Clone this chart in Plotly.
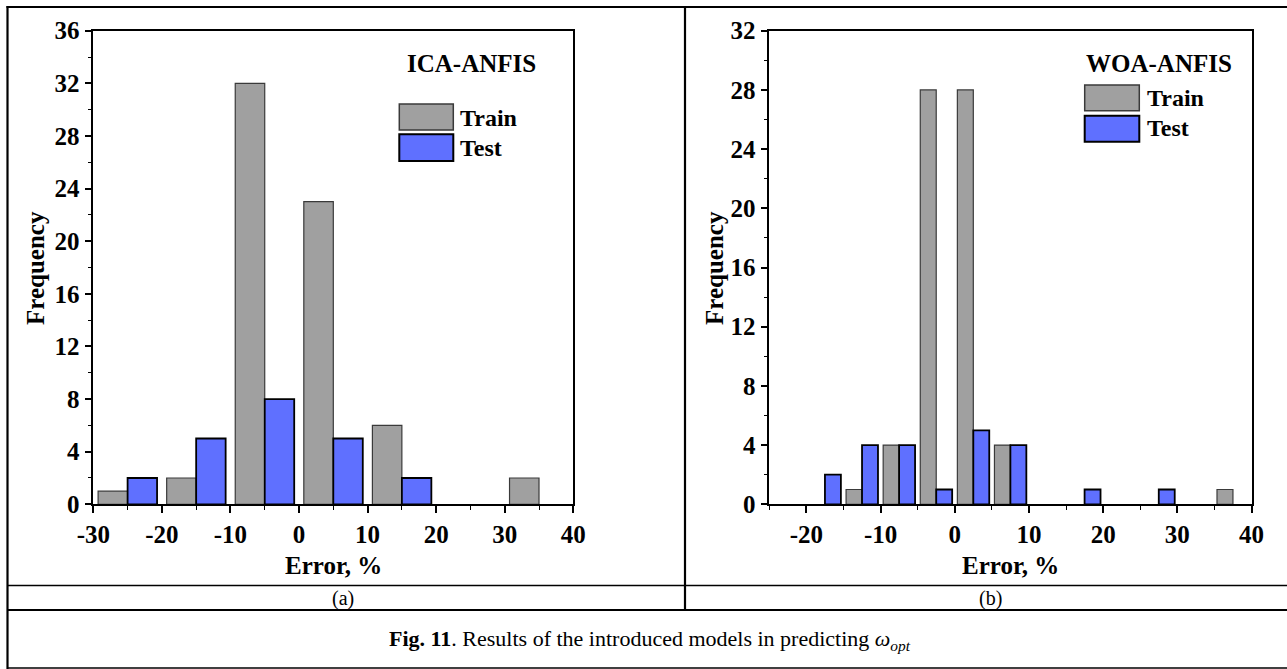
import plotly.graph_objects as go

# ---------------- data ----------------
left_centers = [-25, -15, -5, 5, 15, 25, 35]
left_train = [1, 2, 32, 23, 6, 0, 2]
left_test = [2, 5, 8, 5, 2, 0, 0]

right_centers = [-17.5, -12.5, -7.5, -2.5, 2.5, 7.5, 12.5, 17.5, 22.5, 27.5, 32.5, 37.5]
right_train = [0, 1, 4, 28, 28, 4, 0, 0, 0, 0, 0, 1]
right_test = [2, 4, 4, 1, 5, 4, 0, 1, 0, 1, 0, 0]

left_xticks = [-30, -20, -10, 0, 10, 20, 30, 40]
left_xlabels = ["-30", "-20", "-10", "0", "10", "20", "30", "40"]
left_yticks = [0, 4, 8, 12, 16, 20, 24, 28, 32, 36]
right_xticks = [-20, -10, 0, 10, 20, 30, 40]
right_xlabels = ["-20", "-10", "0", "10", "20", "30", "40"]
right_yticks = [0, 4, 8, 12, 16, 20, 24, 28, 32]

panel_titles = ["ICA-ANFIS", "WOA-ANFIS"]
series_names = ["Train", "Test"]
caption = "<b>Fig. 11</b>. Results of the introduced models in predicting <i>ω</i><sub><i>opt</i></sub>"

# ---------------- style ----------------
W, H = 1287, 669
TRAIN_FILL = "#A0A0A0"
TRAIN_LINE = "#3A3A3A"
TEST_FILL = "#5F70FF"
TEST_LINE = "#000000"
SERIF = "Liberation Serif, Times New Roman, serif"


def px(x):
    return x / W


def py(y):
    return 1 - y / H


def outline_widths(values, w):
    # no outline on empty bins (they would leave a stub on the axis)
    return [w if v > 0 else 0 for v in values]


fig = go.Figure()

fig.add_trace(go.Bar(x=left_centers, y=left_train, name=series_names[0],
                     marker=dict(color=TRAIN_FILL,
                                 line=dict(color=TRAIN_LINE, width=outline_widths(left_train, 1.2))),
                     xaxis="x", yaxis="y", showlegend=False))
fig.add_trace(go.Bar(x=left_centers, y=left_test, name=series_names[1],
                     marker=dict(color=TEST_FILL,
                                 line=dict(color=TEST_LINE, width=outline_widths(left_test, 1.8))),
                     xaxis="x", yaxis="y", showlegend=False))
fig.add_trace(go.Bar(x=right_centers, y=right_train, name=series_names[0],
                     marker=dict(color=TRAIN_FILL,
                                 line=dict(color=TRAIN_LINE, width=outline_widths(right_train, 1.2))),
                     xaxis="x2", yaxis="y2", showlegend=False))
fig.add_trace(go.Bar(x=right_centers, y=right_test, name=series_names[1],
                     marker=dict(color=TEST_FILL,
                                 line=dict(color=TEST_LINE, width=outline_widths(right_test, 1.8))),
                     xaxis="x2", yaxis="y2", showlegend=False))

tickfont = dict(family=SERIF, size=25, color="black", weight="bold")
common_axis = dict(showline=True, linecolor="black", linewidth=1.5, mirror=True,
                   ticks="outside", ticklen=7, tickwidth=1.5, tickcolor="black",
                   showgrid=False, zeroline=False, tickfont=tickfont, fixedrange=True,
                   automargin=False)
minor_tick = dict(ticks="outside", ticklen=4, tickwidth=1.2, tickcolor="black", showgrid=False)

L_X0, L_X1 = 93.3, 573.3
R_X0, R_X1 = 769.3, 1251.5
Y_TOP, Y_BOT = 30.7, 504.3

fig.update_layout(
    width=W, height=H,
    autosize=False,
    margin=dict(l=0, r=0, t=0, b=0, pad=0, autoexpand=False),
    paper_bgcolor="white", plot_bgcolor="white",
    barmode="group", bargap=0.14, bargroupgap=0,
    xaxis=dict(domain=[px(L_X0), px(L_X1)], range=[-30, 40], anchor="y",
               tickmode="array", tickvals=left_xticks, ticktext=left_xlabels,
               minor=dict(dtick=5, tick0=0, **minor_tick), **common_axis),
    yaxis=dict(domain=[py(Y_BOT), py(Y_TOP)], range=[0, 36], anchor="x",
               tickmode="array", tickvals=left_yticks,
               minor=dict(dtick=2, tick0=0, **minor_tick), **common_axis),
    xaxis2=dict(domain=[px(R_X0), px(R_X1)], range=[-25, 40], anchor="y2",
                tickmode="array", tickvals=right_xticks, ticktext=right_xlabels,
                minor=dict(dtick=5, tick0=0, **minor_tick), **common_axis),
    yaxis2=dict(domain=[py(Y_BOT), py(Y_TOP)], range=[0, 32], anchor="x2",
                tickmode="array", tickvals=right_yticks,
                minor=dict(dtick=2, tick0=0, **minor_tick), **common_axis),
)

annotations = []
shapes = []


def text(x, y, t, size, xanchor="center", bold=True, angle=0, family=SERIF):
    annotations.append(dict(
        x=px(x), y=py(y), xref="paper", yref="paper", text=(f"<b>{t}</b>" if bold else t),
        showarrow=False, xanchor=xanchor, yanchor="middle", textangle=angle,
        font=dict(family=family, size=size, color="black")))


# axis titles
text((L_X0 + L_X1) / 2, 565, "Error, %", 25)
text((R_X0 + R_X1) / 2, 565, "Error, %", 25)
text(35, 268, "Frequency", 25, angle=-90)
text(714, 268, "Frequency", 25, angle=-90)

# panel titles
text(471.7, 63.3, panel_titles[0], 25)
text(1159, 63.3, panel_titles[1], 25)


# manual legends
def legend_box(x0, x1, y0, y1, fill, line, lw):
    shapes.append(dict(type="rect", xref="paper", yref="paper",
                       x0=px(x0), x1=px(x1), y0=py(y1), y1=py(y0),
                       fillcolor=fill, line=dict(color=line, width=lw)))


legend_box(399.3, 453.3, 104, 130, TRAIN_FILL, TRAIN_LINE, 1.5)
legend_box(399.3, 453.3, 134.3, 161, TEST_FILL, TEST_LINE, 2)
text(458, 118, series_names[0], 24, xanchor="left")
text(458, 147.7, series_names[1], 24, xanchor="left")

legend_box(1084.7, 1139.3, 85, 110.7, TRAIN_FILL, TRAIN_LINE, 1.5)
legend_box(1084.7, 1139.3, 115.7, 141.7, TEST_FILL, TEST_LINE, 2)
text(1145, 98.3, series_names[0], 24, xanchor="left")
text(1145, 127.7, series_names[1], 24, xanchor="left")

# sub labels and caption
text(343, 598, "(a)", 20, bold=False)
text(990, 598, "(b)", 20, bold=False)
text(650, 640, caption, 22, bold=False)


# table lines
def hline(y, x0, x1, w):
    shapes.append(dict(type="line", xref="paper", yref="paper",
                       x0=px(x0), x1=px(x1), y0=py(y), y1=py(y),
                       line=dict(color="black", width=w)))


def vline(x, y0, y1, w):
    shapes.append(dict(type="line", xref="paper", yref="paper",
                       x0=px(x), x1=px(x), y0=py(y0), y1=py(y1),
                       line=dict(color="black", width=w)))


hline(7, 6.5, 1287, 2.2)
hline(585.5, 7, 1287, 1.3)
hline(610, 7, 1287, 2.2)
hline(668, 7, 1287, 1.3)
vline(7.5, 6, 669, 2.2)
vline(685, 6, 610, 2.2)

fig.update_layout(annotations=annotations, shapes=shapes)

fig.write_html("out.html", config={"displayModeBar": False})
